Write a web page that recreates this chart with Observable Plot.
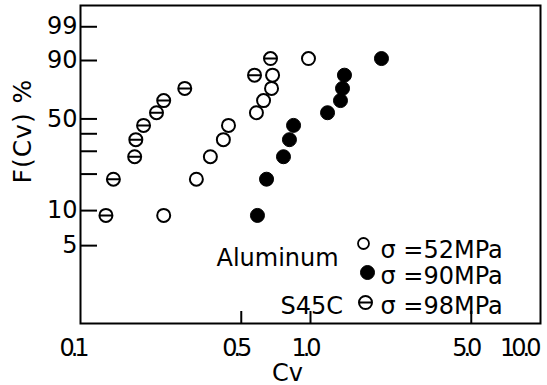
<!DOCTYPE html>
<html>
<head>
<meta charset="utf-8">
<script src="https://cdn.jsdelivr.net/npm/d3@7"></script>
<script src="https://cdn.jsdelivr.net/npm/@observablehq/plot@0.6"></script>
<style>
  html, body { margin: 0; padding: 0; background: white; }
</style>
</head>
<body>
<div id="chart"></div>
<script>
// Cumulative probability F(Cv) in % (plotting positions, shared by the three series)
const fLevels = [9.1, 18.2, 27.3, 36.4, 45.5, 54.5, 63.6, 72.7, 81.8, 90.9];
// Cv values
const cvAl52 = [0.230, 0.319, 0.367, 0.418, 0.440, 0.582, 0.625, 0.677, 0.684, 0.980];
const cvAl90 = [0.588, 0.644, 0.763, 0.810, 0.844, 1.186, 1.350, 1.378, 1.405, 2.035];
const cvS45C = [0.129, 0.139, 0.172, 0.174, 0.188, 0.214, 0.230, 0.284, 0.571, 0.670];

// axes
const xDomain = [0.1, 10];
const xTickLabels = ["0.1", "0.5", "1.0", "5.0", "10.0"];
const xInnerTicks = [0.5, 1.0, 5.0];
const yDomainPct = [1.03, 99.92];
const yTicksAll = [5, 10, 20, 30, 40, 50, 90, 99];
const yTickLabels = [5, 10, 50, 90, 99];

// Weibull probability transform
const weib = p => Math.log(-Math.log(1 - p / 100));

// circle with a horizontal bar (S45C marker)
const thetaSymbol = {
  draw(ctx, size) {
    const r = Math.sqrt(size / Math.PI);
    ctx.moveTo(r, 0);
    ctx.arc(0, 0, r, 0, 2 * Math.PI);
    ctx.moveTo(-r, 0);
    ctx.lineTo(r, 0);
  }
};

const W = 547, H = 385;
const mL = 80, mR = 7, mT = 5, mB = 62;
const fw = W - mL - mR, fh = H - mT - mB;
const font = "DejaVu Sans";

const chart = Plot.plot({
  width: W, height: H,
  marginLeft: mL, marginRight: mR, marginTop: mT, marginBottom: mB,
  style: {fontFamily: font, background: "white", color: "black"},
  x: {type: "log", domain: xDomain, axis: null},
  y: {type: "linear", domain: yDomainPct.map(weib), axis: null},
  marks: [
    Plot.frame({stroke: "black", strokeWidth: 2}),
    // inward ticks
    Plot.tickY(yTicksAll, {y: weib, stroke: "black", strokeWidth: 2, insetRight: fw - 17}),
    Plot.tickX(xInnerTicks, {x: d => d, stroke: "black", strokeWidth: 2, insetTop: fh - 12}),
    // y tick labels
    Plot.text(yTickLabels, {y: weib, text: d => String(d), frameAnchor: "left", textAnchor: "end", dx: -3, fontSize: 24}),
    // x tick labels
    Plot.text(xTickLabels.slice(0, 1), {x: d => +d, text: d => d, frameAnchor: "bottom", lineAnchor: "bottom", dy: 32, dx: -8, fontSize: 24}),
    Plot.text(xTickLabels.slice(1, 4), {x: d => +d, text: d => d, frameAnchor: "bottom", lineAnchor: "bottom", dy: 32, dx: -6, fontSize: 24}),
    Plot.text(xTickLabels.slice(4), {x: d => +d, text: d => d, frameAnchor: "bottom", lineAnchor: "bottom", textAnchor: "end", dy: 32, dx: -3, fontSize: 24}),
    // axis titles
    Plot.text(["Cv"], {frameAnchor: "bottom", lineAnchor: "bottom", dx: -23, dy: 57, fontSize: 24}),
    Plot.text(["F(Cv) %"], {frameAnchor: "left", rotate: -90, dx: -58, dy: 19, fontSize: 25}),
    // data
    Plot.dot(cvAl52, {x: d => d, y: (d, i) => weib(fLevels[i]), r: 6.5, stroke: "black", strokeWidth: 2, fill: "none"}),
    Plot.dot(cvAl90, {x: d => d, y: (d, i) => weib(fLevels[i]), r: 7, stroke: "black", strokeWidth: 1, fill: "black"}),
    Plot.dot(cvS45C, {x: d => d, y: (d, i) => weib(fLevels[i]), r: 6.5, symbol: thetaSymbol, stroke: "black", strokeWidth: 2, fill: "none"}),
    // legend
    Plot.text(["Aluminum"], {frameAnchor: "bottom-left", textAnchor: "start", lineAnchor: "bottom", dx: 136, dy: -58, fontSize: 24}),
    Plot.text(["S45C"], {frameAnchor: "bottom-left", textAnchor: "start", lineAnchor: "bottom", dx: 200, dy: -10, fontSize: 24}),
    Plot.text(["σ =52MPa"], {frameAnchor: "bottom-left", textAnchor: "start", lineAnchor: "bottom", dx: 300, dy: -66, fontSize: 24}),
    Plot.text(["σ =90MPa"], {frameAnchor: "bottom-left", textAnchor: "start", lineAnchor: "bottom", dx: 300, dy: -40, fontSize: 24}),
    Plot.text(["σ =98MPa"], {frameAnchor: "bottom-left", textAnchor: "start", lineAnchor: "bottom", dx: 300, dy: -10, fontSize: 24}),
    Plot.dot([0], {frameAnchor: "bottom-left", dx: 283, dy: -80, r: 5.5, stroke: "black", strokeWidth: 1.8, fill: "none"}),
    Plot.dot([0], {frameAnchor: "bottom-left", dx: 287, dy: -51, r: 7, stroke: "black", strokeWidth: 1, fill: "black"}),
    Plot.dot([0], {frameAnchor: "bottom-left", dx: 285, dy: -21, r: 6.5, symbol: thetaSymbol, stroke: "black", strokeWidth: 2, fill: "none"})
  ]
});
// condensed spacing for the x tick labels, wider spacing for the y title
d3.select(chart).selectAll("text")
  .filter(function() { return xTickLabels.includes(this.textContent); })
  .attr("letter-spacing", "-4");
d3.select(chart).selectAll("text")
  .filter(function() { return this.textContent === "F(Cv) %"; })
  .attr("letter-spacing", "1");
document.getElementById("chart").appendChild(chart);
</script>
</body>
</html>
